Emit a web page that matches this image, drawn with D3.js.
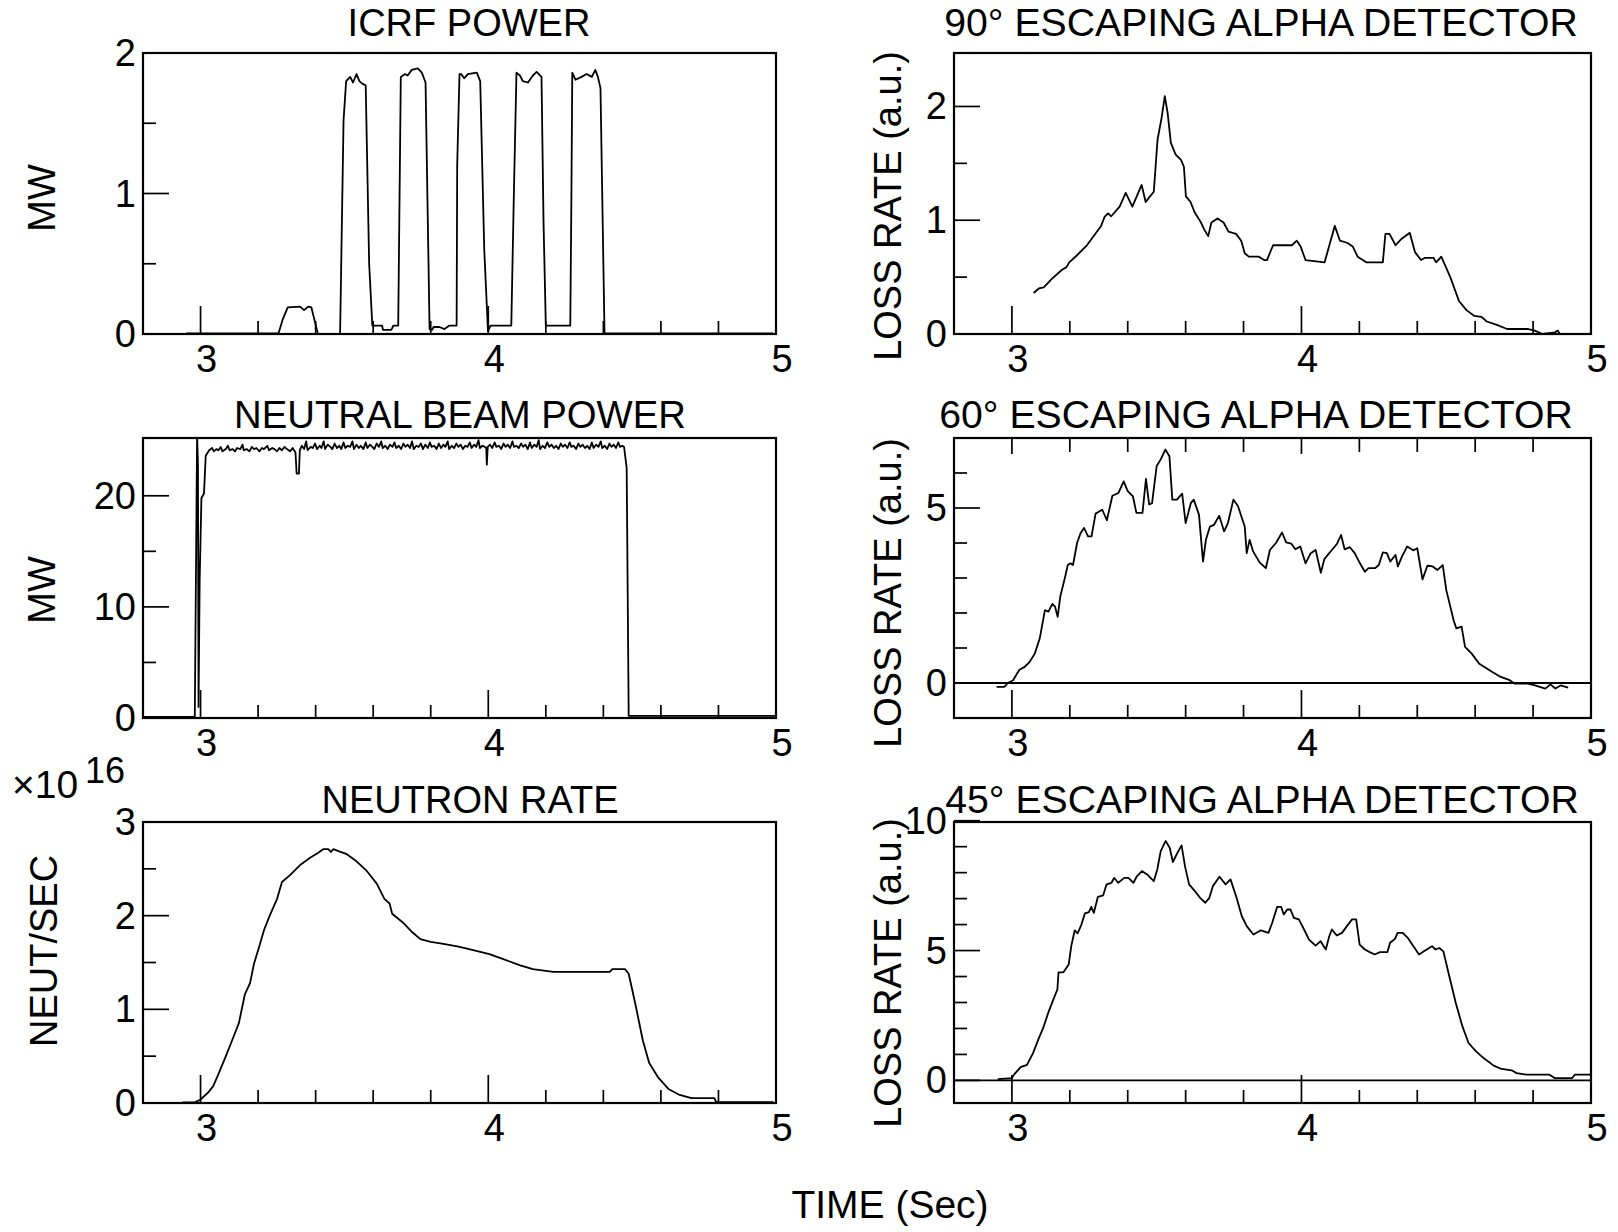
<!DOCTYPE html>
<html>
<head>
<meta charset="utf-8">
<script src="https://cdn.jsdelivr.net/npm/d3@7"></script>
<style>
  body { margin: 0; background: #fff; }
  text { font-family: "Liberation Sans", Arial, Helvetica, sans-serif; fill: #000; }
</style>
</head>
<body>
<svg id="fig" width="1618" height="1232"></svg>
<script>
// shared time axis (sec)
var xMajor = [3, 4, 5];
var xMinor = [3.2, 3.4, 3.6, 3.8, 4.2, 4.4, 4.6, 4.8];

// y ticks of each panel
var icrfMajor = [0, 1, 2], icrfMinor = [0.5, 1.5];
var nbMajor = [0, 10, 20], nbMinor = [5, 15];
var neutMajor = [0, 1, 2, 3], neutMinor = [0.5, 1.5, 2.5];
var a90Major = [0, 1, 2], a90Minor = [0.5, 1.5];
var a60Major = [0, 5], a60Minor = [1, 2, 3, 4, 6];
var a45Major = [0, 5, 10], a45Minor = [1, 2, 3, 4, 6, 7, 8, 9];

// ICRF power, MW
var icrf = [[2.95,0.005],[3.271,0.005],[3.285,0.1],[3.303,0.19],[3.346,0.195],[3.36,0.17],[3.374,0.195],[3.385,0.19],[3.408,0],
  [3.485,0],[3.497,1.52],[3.506,1.80],[3.52,1.83],[3.53,1.79],[3.542,1.85],[3.552,1.8],[3.563,1.78],[3.574,1.77],[3.586,0.5],[3.597,0.06],
  [3.631,0.06],[3.634,0.03],[3.663,0.03],[3.67,0.06],[3.687,0.06],[3.696,1.83],[3.711,1.85],[3.72,1.84],[3.734,1.88],[3.755,1.89],[3.769,1.86],[3.782,1.79],[3.796,0.035],
  [3.805,0.03],[3.81,0.05],[3.83,0.05],[3.848,0.035],[3.865,0.06],[3.89,0.06],[3.892,1.2],[3.9,1.85],[3.906,1.85],[3.916,1.82],[3.929,1.85],[3.96,1.86],[3.972,1.8],[3.986,0.6],[3.999,0.02],
  [4.008,0.06],[4.08,0.06],[4.089,1.0],[4.098,1.86],[4.11,1.84],[4.12,1.8],[4.138,1.79],[4.155,1.84],[4.168,1.865],[4.185,1.83],[4.192,0.8],[4.2,0.06],
  [4.285,0.06],[4.289,1.0],[4.292,1.86],[4.303,1.81],[4.324,1.83],[4.342,1.85],[4.36,1.83],[4.372,1.88],[4.381,1.83],[4.39,1.75],[4.404,0.005],[4.99,0.005]];

// neutral beam power, MW
var nb = [[2.80,0.1],[2.98,0.1],[2.988,25.5],[2.991,22.8],[2.993,1.0],[2.997,12.5],[3.003,19.8],[3.012,20.2],[3.018,23.6],
  [3.030,24.1],[3.040,24.3],[3.046,24.0],[3.055,24.2],[3.062,24.1],[3.070,24.4],[3.076,24.0],[3.088,24.2],[3.095,24.5],[3.101,24.1],
  [3.112,24.2],[3.120,24.0],[3.127,24.3],[3.138,24.2],[3.146,24.6],[3.150,24.1],[3.161,24.2],[3.170,24.0],[3.178,24.4],[3.186,24.2],
  [3.194,24.3],[3.205,24.0],[3.213,24.3],[3.220,24.2],[3.232,24.5],[3.238,24.1],[3.249,24.3],[3.257,24.2],[3.266,24.0],[3.274,24.3],
  [3.283,24.1],[3.292,24.4],[3.300,24.2],[3.311,24.0],[3.320,24.3],[3.330,23.9],[3.334,22.0],[3.342,22.0],[3.345,24.1],[3.352,24.5],
  [3.360,24.2],[3.367,24.9],[3.372,24.1],[3.383,24.4],[3.390,24.3],[3.398,24.7],[3.405,24.2],[3.414,24.5],[3.420,24.3],[3.428,24.9],
  [3.433,24.2],[3.442,24.6],[3.451,24.4],[3.458,24.2],[3.466,24.7],[3.474,24.3],[3.482,24.5],[3.489,24.2],[3.497,24.8],[3.503,24.3],
  [3.512,24.5],[3.520,24.4],[3.528,24.9],[3.533,24.2],[3.542,24.6],[3.550,24.3],[3.557,24.5],[3.566,24.2],[3.574,24.8],[3.580,24.3],
  [3.589,24.6],[3.597,24.4],[3.604,24.2],[3.612,24.7],[3.620,24.4],[3.628,24.9],[3.633,24.3],[3.642,24.5],[3.650,24.2],[3.658,24.6],
  [3.667,24.4],[3.674,24.8],[3.680,24.3],[3.689,24.5],[3.697,24.2],[3.705,24.7],[3.712,24.4],[3.720,24.6],[3.728,24.3],[3.735,24.9],
  [3.741,24.2],[3.750,24.5],[3.758,24.4],[3.766,24.7],[3.773,24.2],[3.781,24.6],[3.790,24.3],[3.797,24.8],[3.803,24.4],[3.812,24.5],
  [3.820,24.2],[3.828,24.7],[3.836,24.3],[3.844,24.6],[3.851,24.4],[3.859,24.9],[3.864,24.2],[3.873,24.5],[3.881,24.3],[3.889,24.7],
  [3.896,24.4],[3.904,24.6],[3.912,24.2],[3.920,24.5],[3.928,24.4],[3.936,24.8],[3.942,24.3],[3.951,24.6],[3.958,24.4],[3.966,25.0],
  [3.971,24.3],[3.980,24.5],[3.988,24.4],[3.993,24.3],[3.995,22.8],[3.998,24.4],[4.006,24.6],[4.014,24.3],[4.022,24.8],[4.028,24.4],
  [4.037,24.5],[4.045,24.2],[4.053,24.7],[4.060,24.4],[4.068,24.6],[4.076,24.3],[4.084,24.9],[4.089,24.4],[4.098,24.5],[4.106,24.3],
  [4.114,24.7],[4.121,24.4],[4.129,24.6],[4.137,24.2],[4.145,24.8],[4.151,24.3],[4.160,24.6],[4.168,24.4],[4.175,25.0],[4.180,24.2],
  [4.189,24.5],[4.197,24.3],[4.205,24.8],[4.212,24.4],[4.220,24.6],[4.228,24.3],[4.236,24.5],[4.244,24.2],[4.252,24.7],[4.259,24.4],
  [4.267,24.6],[4.275,24.3],[4.283,24.8],[4.289,24.4],[4.297,24.5],[4.305,24.2],[4.313,24.7],[4.320,24.4],[4.328,24.6],[4.336,24.3],
  [4.344,24.5],[4.352,24.2],[4.360,24.8],[4.366,24.3],[4.375,24.6],[4.383,24.4],[4.391,24.9],[4.396,24.3],[4.405,24.5],[4.413,24.2],
  [4.421,24.7],[4.428,24.4],[4.436,24.6],[4.444,24.3],[4.452,24.8],[4.458,24.4],[4.466,24.5],[4.472,24.4],
  [4.481,22.5],[4.488,0.2],[5.0,0.2]];

// neutron rate, 1e16 n/s
var neut = [[2.937,0.007],[2.981,0.01],[2.999,0.035],[3.026,0.11],[3.044,0.18],[3.061,0.30],[3.088,0.50],[3.115,0.71],[3.133,0.85],
  [3.150,1.10],[3.154,1.16],[3.172,1.28],[3.186,1.49],[3.204,1.67],[3.221,1.85],[3.239,1.99],[3.266,2.18],[3.283,2.36],[3.310,2.43],
  [3.346,2.54],[3.382,2.62],[3.408,2.67],[3.426,2.71],[3.444,2.71],[3.453,2.68],[3.462,2.71],[3.479,2.69],[3.506,2.66],[3.542,2.58],
  [3.577,2.48],[3.613,2.34],[3.639,2.18],[3.657,2.13],[3.666,2.02],[3.702,1.93],[3.737,1.82],[3.764,1.75],[3.800,1.72],[3.844,1.70],
  [3.897,1.67],[3.951,1.63],[4.004,1.59],[4.057,1.53],[4.111,1.47],[4.155,1.43],[4.226,1.40],[4.422,1.40],[4.431,1.43],[4.475,1.43],
  [4.488,1.38],[4.511,1.06],[4.537,0.67],[4.559,0.43],[4.591,0.27],[4.626,0.15],[4.662,0.09],[4.706,0.053],[4.786,0.053],[4.792,0.01],[4.991,0.01]];

// 90 degree detector loss rate, a.u.
var a90 = [[3.075,0.36],[3.093,0.40],[3.110,0.41],[3.136,0.48],[3.171,0.56],[3.189,0.59],[3.198,0.63],[3.224,0.69],[3.259,0.78],
  [3.285,0.87],[3.308,0.95],[3.320,1.03],[3.332,1.06],[3.343,1.035],[3.372,1.12],[3.393,1.24],[3.416,1.12],[3.448,1.31],[3.462,1.16],
  [3.477,1.21],[3.490,1.25],[3.503,1.71],[3.517,1.90],[3.528,2.09],[3.538,1.94],[3.549,1.68],[3.565,1.58],[3.584,1.53],[3.594,1.47],
  [3.601,1.21],[3.617,1.16],[3.631,1.07],[3.652,0.985],[3.664,0.92],[3.678,0.86],[3.689,0.98],[3.710,1.015],[3.731,0.98],[3.748,0.90],
  [3.774,0.88],[3.792,0.82],[3.804,0.71],[3.818,0.68],[3.853,0.68],[3.871,0.65],[3.881,0.65],[3.902,0.78],[3.967,0.78],[3.984,0.82],
  [3.997,0.77],[4.014,0.65],[4.080,0.63],[4.115,0.95],[4.133,0.82],[4.159,0.80],[4.177,0.77],[4.194,0.68],[4.224,0.63],[4.281,0.63],
  [4.290,0.88],[4.304,0.88],[4.325,0.78],[4.343,0.83],[4.374,0.89],[4.392,0.72],[4.413,0.65],[4.427,0.67],[4.456,0.67],[4.465,0.63],
  [4.483,0.68],[4.514,0.50],[4.544,0.29],[4.570,0.21],[4.596,0.16],[4.622,0.15],[4.640,0.11],[4.675,0.08],[4.710,0.044],[4.780,0.044],
  [4.806,0.03],[4.832,0.0],[4.876,0.015],[4.885,0.03],[4.893,0.0],[4.963,0.0]];

// 60 degree detector loss rate, a.u.
var a60 = [[2.947,-0.11],[2.974,-0.11],[2.986,0],[3.004,0.08],[3.026,0.38],[3.044,0.46],[3.061,0.60],[3.079,0.84],[3.096,1.27],
  [3.114,2.08],[3.126,2.04],[3.140,2.26],[3.149,2.18],[3.158,1.89],[3.167,2.47],[3.184,3.04],[3.193,3.37],[3.202,3.42],[3.211,3.37],
  [3.225,4.00],[3.237,4.28],[3.249,4.43],[3.263,4.19],[3.275,4.19],[3.289,4.84],[3.312,4.95],[3.328,4.65],[3.347,5.35],[3.368,5.43],
  [3.386,5.76],[3.400,5.48],[3.418,5.33],[3.430,4.86],[3.451,4.86],[3.463,5.83],[3.474,5.10],[3.484,5.14],[3.500,6.20],[3.514,6.39],
  [3.530,6.67],[3.544,6.48],[3.554,5.24],[3.570,5.24],[3.588,5.41],[3.600,4.57],[3.618,5.14],[3.628,5.24],[3.646,4.81],[3.660,3.47],
  [3.670,4.09],[3.684,4.47],[3.698,4.52],[3.716,4.78],[3.733,4.33],[3.746,4.57],[3.765,5.24],[3.781,5.05],[3.804,4.47],[3.811,3.71],
  [3.821,4.09],[3.833,3.76],[3.856,3.44],[3.877,3.28],[3.891,3.80],[3.912,4.00],[3.933,4.30],[3.947,4.02],[3.965,3.98],[3.979,3.82],
  [3.996,3.90],[4.014,3.42],[4.032,3.71],[4.049,3.80],[4.067,3.15],[4.079,3.54],[4.091,3.66],[4.105,3.80],[4.123,3.98],[4.137,4.23],
  [4.149,3.82],[4.167,3.88],[4.184,3.71],[4.202,3.42],[4.219,3.18],[4.232,3.28],[4.254,3.28],[4.267,3.37],[4.281,3.73],[4.295,3.71],
  [4.307,3.47],[4.325,3.66],[4.333,3.33],[4.347,3.61],[4.365,3.90],[4.386,3.79],[4.400,3.85],[4.418,2.96],[4.435,3.35],[4.453,3.33],
  [4.470,3.23],[4.488,3.37],[4.500,2.66],[4.526,1.78],[4.535,1.56],[4.553,1.61],[4.565,1.03],[4.588,0.84],[4.614,0.55],[4.632,0.46],
  [4.658,0.32],[4.684,0.19],[4.719,0.08],[4.737,-0.02],[4.781,-0.02],[4.807,-0.07],[4.842,-0.16],[4.860,-0.04],[4.877,-0.16],
  [4.895,-0.07],[4.921,-0.13]];

// 45 degree detector loss rate, a.u.
var a45 = [[2.951,0.05],[3.000,0.09],[3.007,0.22],[3.030,0.51],[3.052,0.60],[3.073,1.05],[3.091,1.57],[3.108,2.02],[3.126,2.62],
  [3.143,3.11],[3.157,3.50],[3.161,4.16],[3.178,4.16],[3.196,4.46],[3.205,5.17],[3.217,5.78],[3.227,5.66],[3.240,6.00],[3.252,6.43],
  [3.266,6.48],[3.274,6.68],[3.283,6.45],[3.297,7.07],[3.315,7.12],[3.327,7.55],[3.344,7.61],[3.353,7.80],[3.367,7.61],[3.388,7.80],
  [3.402,7.80],[3.420,7.61],[3.432,7.87],[3.449,8.06],[3.467,7.93],[3.490,7.67],[3.502,8.12],[3.514,8.83],[3.531,9.22],[3.545,8.96],
  [3.556,8.41],[3.572,8.77],[3.586,9.05],[3.598,8.23],[3.612,7.55],[3.629,7.33],[3.650,7.03],[3.668,6.84],[3.682,7.03],[3.694,7.48],
  [3.717,7.84],[3.738,7.55],[3.755,7.74],[3.776,7.03],[3.794,6.32],[3.811,5.94],[3.834,5.62],[3.860,5.78],[3.886,5.68],[3.899,6.07],
  [3.916,6.68],[3.930,6.68],[3.939,6.39],[3.951,6.58],[3.962,6.58],[3.974,6.26],[3.991,6.20],[4.009,5.81],[4.026,5.42],[4.049,5.19],
  [4.066,5.36],[4.084,5.04],[4.096,5.55],[4.105,5.81],[4.122,5.58],[4.140,5.68],[4.157,5.94],[4.175,6.20],[4.189,6.20],[4.201,5.23],
  [4.219,5.04],[4.236,4.94],[4.253,4.85],[4.271,4.94],[4.297,4.94],[4.306,5.30],[4.323,5.45],[4.332,5.68],[4.350,5.68],[4.367,5.49],
  [4.385,5.19],[4.406,4.85],[4.423,4.97],[4.451,5.17],[4.463,5.04],[4.476,5.10],[4.490,4.97],[4.510,4.04],[4.533,2.98],[4.556,2.08],
  [4.577,1.44],[4.603,1.12],[4.629,0.86],[4.664,0.57],[4.691,0.44],[4.726,0.39],[4.743,0.28],[4.778,0.22],[4.857,0.22],[4.874,0.09],
  [4.935,0.09],[4.944,0.22],[4.997,0.22]];

var svg = d3.select("#fig");
svg.append("rect").attr("width", 1618).attr("height", 1232).attr("fill", "#fff");

var cols = [[143, 776], [954, 1591]];
var rows = [[53, 334], [438, 718], [822, 1103]];

var panels = [
  { id: "icrf", col: 0, row: 0, data: icrf, ydom: [0, 2], major: icrfMajor, minor: icrfMinor,
    title: "ICRF POWER", tx: 469, ty: 36, tfs: 38, ylab: "MW", lx: 41, ly: 198 },
  { id: "nb", col: 0, row: 1, data: nb, ydom: [0, 25.2], major: nbMajor, minor: nbMinor,
    title: "NEUTRAL BEAM POWER", tx: 460, ty: 428, tfs: 38.3, ylab: "MW", lx: 41, ly: 590 },
  { id: "neut", col: 0, row: 2, data: neut, ydom: [0, 3], major: neutMajor, minor: neutMinor,
    title: "NEUTRON RATE", tx: 470, ty: 813, tfs: 38, ylab: "NEUT/SEC", lx: 43, ly: 951 },
  { id: "a90", col: 1, row: 0, data: a90, ydom: [0, 2.47], major: a90Major, minor: a90Minor,
    title: "90\u00b0 ESCAPING ALPHA DETECTOR", tx: 1261, ty: 36, tfs: 39.2, ylab: "LOSS RATE (a.u.)", lx: 887, ly: 206 },
  { id: "a60", col: 1, row: 1, data: a60, ydom: [-1, 7], major: a60Major, minor: a60Minor, zero: true, topTicks: true,
    title: "60\u00b0 ESCAPING ALPHA DETECTOR", tx: 1256, ty: 428, tfs: 39.2, ylab: "LOSS RATE (a.u.)", lx: 887, ly: 593 },
  { id: "a45", col: 1, row: 2, data: a45, ydom: [-0.87, 9.95], major: a45Major, minor: a45Minor, zero: true,
    title: "45\u00b0 ESCAPING ALPHA DETECTOR", tx: 1262, ty: 813, tfs: 39.2, ylab: "LOSS RATE (a.u.)", lx: 887, ly: 973 }
];

panels.forEach(function(p) {
  var x0 = cols[p.col][0], x1 = cols[p.col][1];
  var y0 = rows[p.row][0], y1 = rows[p.row][1];
  var x = d3.scaleLinear().domain([2.8, 5]).range([x0, x1]);
  var y = d3.scaleLinear().domain(p.ydom).range([y1, y0]);
  var g = svg.append("g");

  g.append("clipPath").attr("id", "clip-" + p.id)
    .append("rect").attr("x", x0).attr("y", y0).attr("width", x1 - x0).attr("height", y1 - y0);

  // trace
  g.append("path")
    .datum(p.data)
    .attr("clip-path", "url(#clip-" + p.id + ")")
    .attr("fill", "none")
    .attr("stroke", "#000")
    .attr("stroke-width", 1.8)
    .attr("stroke-linejoin", "round")
    .attr("d", d3.line().x(d => x(d[0])).y(d => y(d[1])));

  if (p.zero) {
    g.append("line").attr("x1", x0).attr("x2", x1).attr("y1", y(0)).attr("y2", y(0))
      .attr("stroke", "#000").attr("stroke-width", 1.8);
  }

  // frame
  g.append("rect").attr("x", x0).attr("y", y0).attr("width", x1 - x0).attr("height", y1 - y0)
    .attr("fill", "none").attr("stroke", "#000").attr("stroke-width", 2.2);

  // ticks point into the plot
  var tk = g.append("g").attr("stroke", "#000").attr("stroke-width", 1.7);
  xMajor.slice(0, 2).forEach(function(t) {
    tk.append("line").attr("x1", x(t)).attr("x2", x(t)).attr("y1", y1).attr("y2", y1 - 28);
    if (p.topTicks) tk.append("line").attr("x1", x(t)).attr("x2", x(t)).attr("y1", y0).attr("y2", y0 + 16);
  });
  xMinor.forEach(function(t) {
    tk.append("line").attr("x1", x(t)).attr("x2", x(t)).attr("y1", y1).attr("y2", y1 - 13);
    if (p.topTicks) tk.append("line").attr("x1", x(t)).attr("x2", x(t)).attr("y1", y0).attr("y2", y0 + 14);
  });
  p.major.forEach(function(v) {
    tk.append("line").attr("x1", x0).attr("x2", x0 + 26).attr("y1", y(v)).attr("y2", y(v));
  });
  p.minor.forEach(function(v) {
    tk.append("line").attr("x1", x0).attr("x2", x0 + 13).attr("y1", y(v)).attr("y2", y(v));
  });

  // tick labels
  g.selectAll(".xl").data(xMajor).enter().append("text")
    .attr("x", d => x(d) + 6).attr("y", y1 + 38)
    .attr("text-anchor", "middle").style("font-size", "38px")
    .text(d => d);
  g.selectAll(".yl").data(p.major).enter().append("text")
    .attr("x", x0 - 7).attr("y", d => y(d) + 13)
    .attr("text-anchor", "end").style("font-size", "38px")
    .text(d => d);

  // panel title and axis label
  g.append("text").attr("x", p.tx).attr("y", p.ty)
    .attr("text-anchor", "middle").style("font-size", p.tfs + "px").text(p.title);
  g.append("text")
    .attr("transform", "translate(" + p.lx + "," + p.ly + ") rotate(-90)")
    .attr("text-anchor", "middle").attr("dy", "0.36em")
    .style("font-size", "38px").text(p.ylab);
});

// exponent of the neutron rate axis
svg.append("text").attr("x", 12).attr("y", 798).style("font-size", "39px").text("\u00d710");
svg.append("text").attr("x", 85).attr("y", 783).style("font-size", "36px").text("16");

svg.append("text").attr("x", 890).attr("y", 1218)
  .attr("text-anchor", "middle").style("font-size", "39px").text("TIME (Sec)");
</script>
</body>
</html>
